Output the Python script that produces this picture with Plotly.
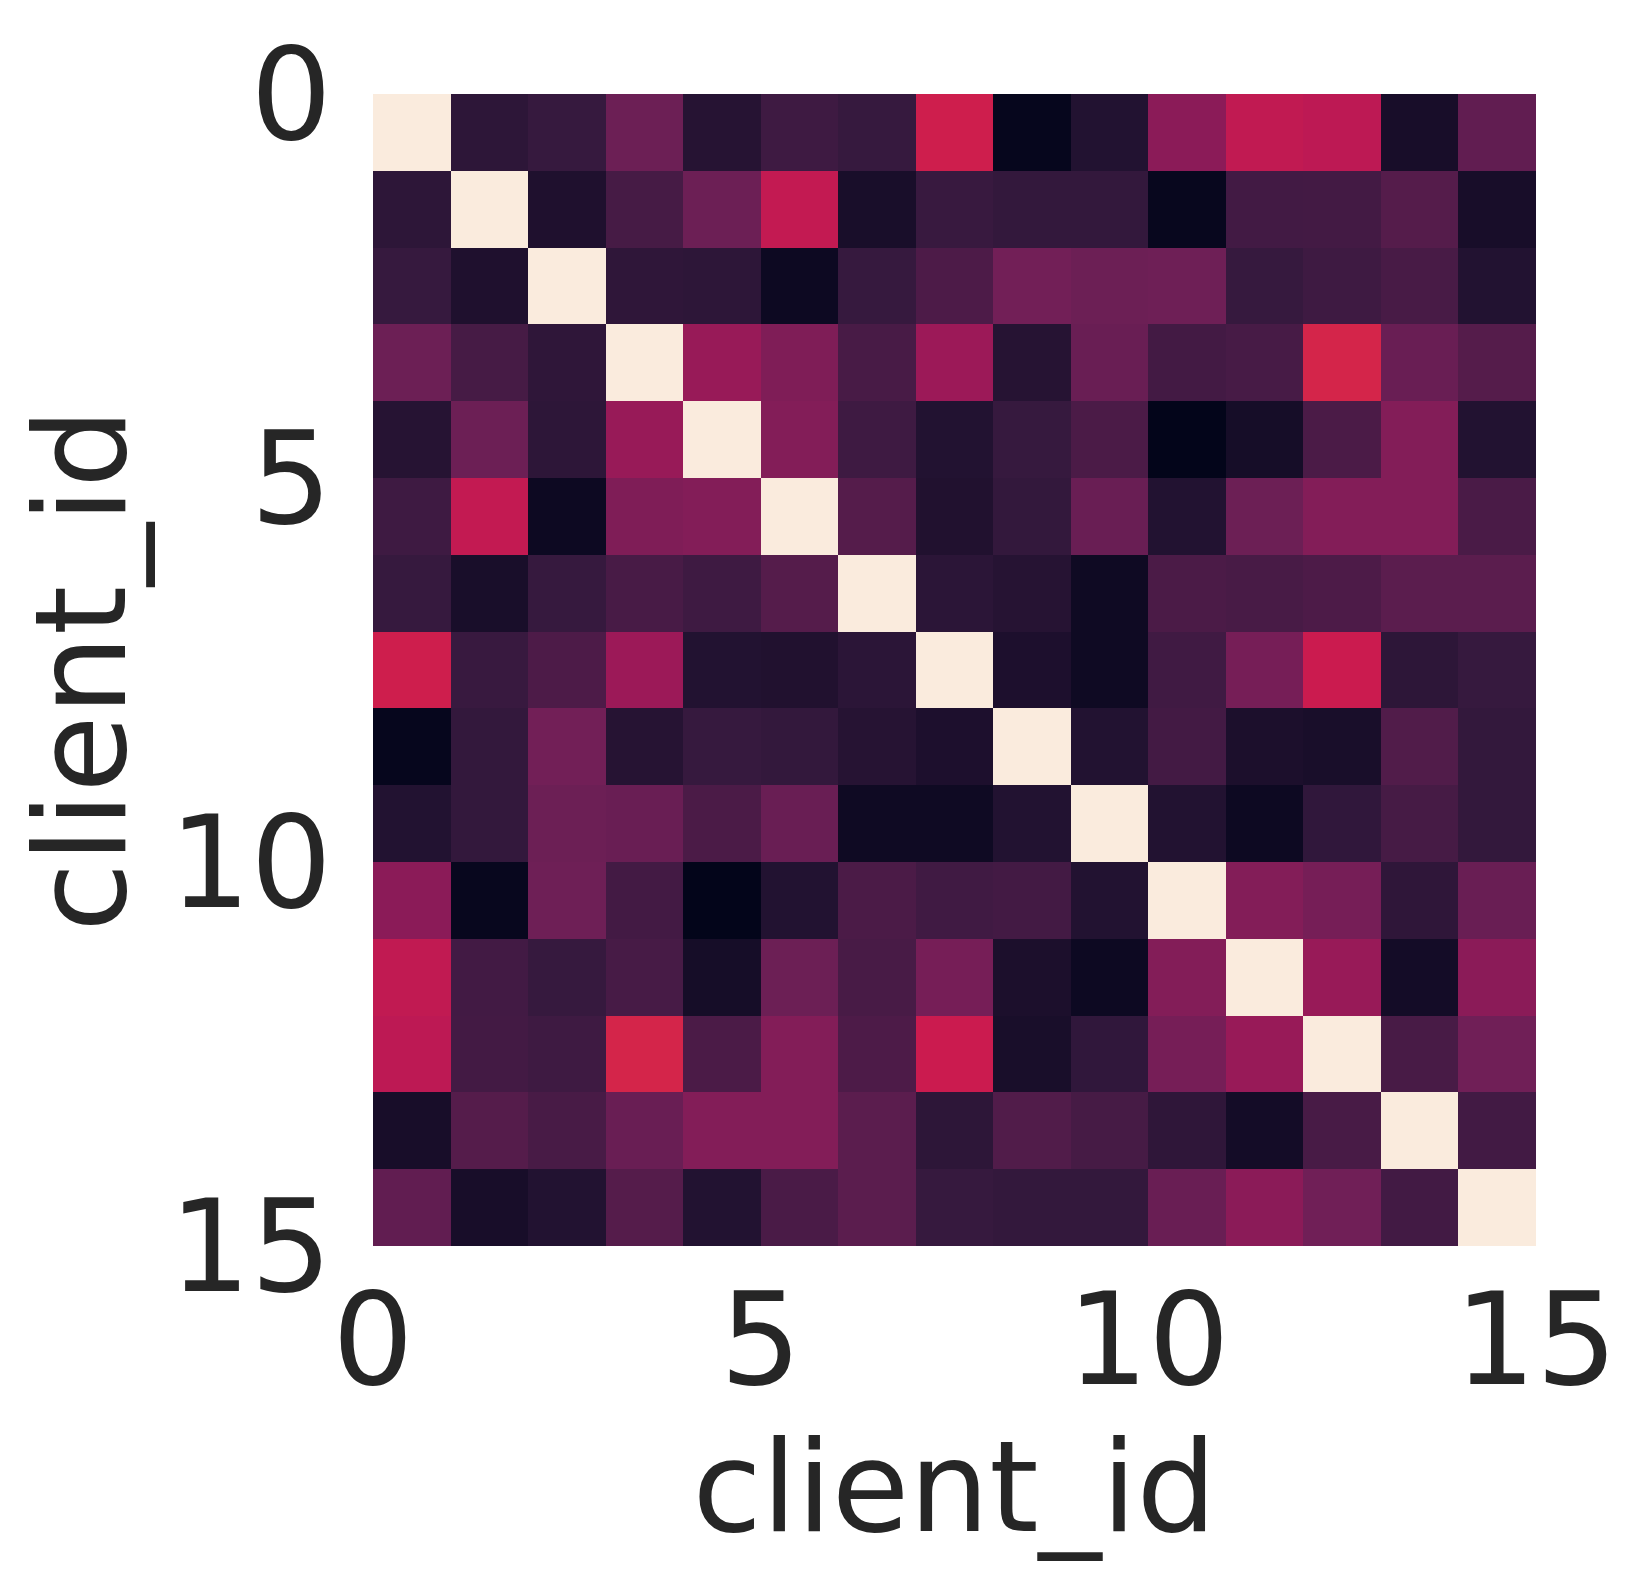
import plotly.graph_objects as go

# pairwise similarity between clients (diagonal = 1)
client_ids = list(range(15))

row_00 = [1.00, 0.12, 0.145, 0.276, 0.10, 0.165, 0.145, 0.51, 0.01, 0.09, 0.349, 0.476, 0.466, 0.06, 0.25]
row_01 = [0.12, 1.00, 0.08, 0.184, 0.276, 0.48, 0.063, 0.15, 0.137, 0.137, 0.015, 0.175, 0.178, 0.22, 0.06]
row_02 = [0.145, 0.08, 1.00, 0.125, 0.12, 0.03, 0.145, 0.20, 0.29, 0.276, 0.28, 0.145, 0.165, 0.19, 0.09]
row_03 = [0.276, 0.184, 0.125, 1.00, 0.38, 0.32, 0.19, 0.39, 0.10, 0.27, 0.178, 0.186, 0.53, 0.27, 0.22]
row_04 = [0.10, 0.276, 0.12, 0.38, 1.00, 0.33, 0.165, 0.09, 0.145, 0.197, 0.00, 0.055, 0.197, 0.33, 0.09]
row_05 = [0.165, 0.48, 0.03, 0.32, 0.33, 1.00, 0.22, 0.085, 0.137, 0.27, 0.09, 0.276, 0.33, 0.33, 0.195]
row_06 = [0.145, 0.063, 0.145, 0.19, 0.165, 0.22, 1.00, 0.115, 0.10, 0.035, 0.197, 0.19, 0.20, 0.235, 0.235]
row_07 = [0.51, 0.15, 0.20, 0.39, 0.09, 0.085, 0.115, 1.00, 0.075, 0.035, 0.17, 0.30, 0.50, 0.12, 0.145]
row_08 = [0.01, 0.137, 0.29, 0.10, 0.145, 0.137, 0.10, 0.075, 1.00, 0.09, 0.178, 0.072, 0.063, 0.21, 0.137]
row_09 = [0.09, 0.137, 0.276, 0.27, 0.197, 0.27, 0.035, 0.035, 0.09, 1.00, 0.09, 0.03, 0.13, 0.185, 0.137]
row_10 = [0.349, 0.015, 0.28, 0.178, 0.00, 0.09, 0.197, 0.17, 0.178, 0.09, 1.00, 0.33, 0.30, 0.125, 0.27]
row_11 = [0.476, 0.175, 0.145, 0.186, 0.055, 0.276, 0.19, 0.30, 0.072, 0.03, 0.33, 1.00, 0.38, 0.05, 0.35]
row_12 = [0.466, 0.178, 0.165, 0.53, 0.197, 0.33, 0.20, 0.50, 0.063, 0.13, 0.30, 0.38, 1.00, 0.19, 0.285]
row_13 = [0.06, 0.22, 0.19, 0.27, 0.33, 0.33, 0.235, 0.12, 0.21, 0.185, 0.125, 0.05, 0.19, 1.00, 0.175]
row_14 = [0.25, 0.06, 0.09, 0.22, 0.09, 0.195, 0.235, 0.145, 0.137, 0.137, 0.27, 0.35, 0.285, 0.175, 1.00]

similarity = [row_00, row_01, row_02, row_03, row_04, row_05, row_06, row_07,
              row_08, row_09, row_10, row_11, row_12, row_13, row_14]

tick_vals = [0, 5, 10, 15]

# seaborn "rocket"
rocket = [
    [0.0, "#03051A"],
    [0.143, "#35193E"],
    [0.286, "#701F57"],
    [0.429, "#AD1759"],
    [0.5, "#CB1B4F"],
    [0.571, "#E13342"],
    [0.714, "#F37651"],
    [0.857, "#F6B48F"],
    [1.0, "#FAEBDD"],
]

fig = go.Figure(
    go.Heatmap(
        z=similarity,
        x0=0.5, dx=1,
        y0=0.5, dy=1,
        colorscale=rocket,
        zmin=0, zmax=1,
        showscale=False,
    )
)

font = dict(family="DejaVu Sans", color="#262626")

fig.update_xaxes(
    range=[0, 15], tickvals=tick_vals, ticktext=[str(v) for v in tick_vals],
    showgrid=False, zeroline=False, showline=False, ticks="",
    tickfont=dict(size=128, **font), ticklabelstandoff=9,
    title=dict(text="client_id", font=dict(size=126, **font), standoff=18),
)
fig.update_yaxes(
    range=[15, 0], tickvals=tick_vals, ticktext=[str(v) for v in tick_vals],
    showgrid=False, zeroline=False, showline=False, ticks="",
    tickfont=dict(size=128, **font), ticklabelstandoff=40,
    title=dict(text="client_id", font=dict(size=126, **font), standoff=11),
)

fig.update_layout(
    width=1645, height=1580, autosize=False,
    margin=dict(l=365, r=117, t=81, b=342),
    plot_bgcolor="white", paper_bgcolor="white",
    font=font,
)

fig.write_html("out.html")
